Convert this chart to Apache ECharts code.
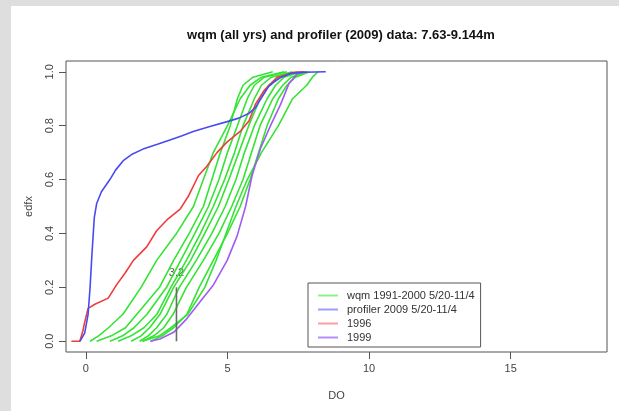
<!DOCTYPE html>
<html>
<head>
<meta charset="utf-8">
<script src="https://cdn.jsdelivr.net/npm/echarts@6/dist/echarts.min.js"></script>
<style>
  html, body { margin: 0; padding: 0; background: #dedede; }
  #main { position: absolute; left: 11px; top: 6px; width: 608px; height: 405px; background: #fff; }
</style>
</head>
<body>
<div id="main"></div>
<script>
// edf levels shared by the green wqm curves
const greenLevels = [0, 0.02, 0.05, 0.1, 0.2, 0.3, 0.4, 0.5, 0.6, 0.7, 0.8, 0.9, 0.95, 0.98, 1]
// DO value at each level, one list per wqm year
const wqmA = [0.15, 0.45, 0.8, 1.31, 1.95, 2.5, 3.2, 3.8, 4.15, 4.5, 5.0, 5.45, 5.8, 6.2, 7.0]
const wqmB = [0.38, 0.9, 1.4, 1.8, 2.6, 3.1, 3.65, 4.15, 4.45, 4.75, 5.1, 5.35, 5.55, 5.9, 6.6]
const wqmC = [0.85, 1.3, 1.7, 2.16, 2.85, 3.35, 3.85, 4.33, 4.7, 5.0, 5.35, 5.7, 5.95, 6.3, 7.1]
const wqmD = [1.14, 1.6, 2.05, 2.51, 3.0, 3.55, 4.05, 4.5, 4.9, 5.25, 5.55, 5.95, 6.2, 6.55, 7.3]
const wqmE = [1.6, 1.95, 2.25, 2.62, 3.1, 3.7, 4.2, 4.68, 5.05, 5.4, 5.75, 6.15, 6.45, 6.8, 7.5]
const wqmF = [1.9, 2.2, 2.5, 2.86, 3.3, 3.9, 4.45, 4.92, 5.3, 5.6, 5.95, 6.4, 6.7, 7.0, 7.6]
const wqmG = [2.0, 2.4, 2.75, 3.08, 3.55, 4.15, 4.7, 5.15, 5.55, 5.85, 6.15, 6.6, 6.95, 7.25, 7.8]
const wqmH = [2.3, 2.7, 3.1, 3.57, 4.0, 4.5, 5.0, 5.45, 5.8, 6.1, 6.4, 6.8, 7.1, 7.4, 7.9]
const wqmI = [2.0, 2.6, 3.0, 3.6, 4.2, 4.6, 4.95, 5.3, 5.7, 6.2, 6.8, 7.3, 7.8, 8.0, 8.2]

const profiler2009 = [[-0.21, 0], [-0.04, 0.03], [0.08, 0.10], [0.15, 0.2], [0.22, 0.33], [0.3, 0.46], [0.38, 0.51],
  [0.55, 0.555], [0.85, 0.60], [1.05, 0.635], [1.32, 0.67], [1.65, 0.695], [2.02, 0.713], [2.5, 0.73], [2.97, 0.747],
  [3.4, 0.763], [3.79, 0.778], [4.38, 0.797], [4.99, 0.815], [5.4, 0.828], [5.75, 0.845], [5.99, 0.867], [6.15, 0.895],
  [6.29, 0.918], [6.45, 0.945], [6.64, 0.962], [6.9, 0.98], [7.23, 0.994], [7.7, 0.998], [8.47, 1.0]]
const wqm1996 = [[-0.51, 0], [-0.21, 0], [-0.1, 0.04], [-0.04, 0.071], [0.08, 0.122], [0.32, 0.137], [0.79, 0.16],
  [1.09, 0.21], [1.4, 0.255], [1.68, 0.30], [2.15, 0.35], [2.5, 0.41], [2.86, 0.45], [3.33, 0.49], [3.63, 0.54],
  [3.98, 0.615], [4.28, 0.65], [4.63, 0.70], [4.99, 0.74], [5.46, 0.78], [5.76, 0.817], [5.99, 0.88], [6.29, 0.93],
  [6.76, 0.98], [7.35, 0.998], [7.7, 1.0]]
const wqm1999 = [[2.27, 0], [2.62, 0.008], [3.1, 0.033], [3.57, 0.084], [4.04, 0.147], [4.51, 0.21], [4.99, 0.30],
  [5.34, 0.39], [5.64, 0.50], [5.87, 0.615], [6.17, 0.716], [6.52, 0.80], [6.88, 0.88], [7.17, 0.956], [7.47, 0.994], [7.8, 1.0]]

const markerDO = 3.2
const markerLine = [[markerDO, 0], [markerDO, 0.2]]

const xTicks = [0, 5, 10, 15]
const yTicks = [0, 0.2, 0.4, 0.6, 0.8, 1.0]

const GREEN_NAME = 'wqm 1991-2000 5/20-11/4'
const BLUE_NAME = 'profiler 2009 5/20-11/4'

const font = 'Liberation Sans, Arial, sans-serif'

function line(name, data, color) {
  return {
    name: name, type: 'line', data: data, symbol: 'none', silent: true,
    lineStyle: { color: color, width: 1.6 }, itemStyle: { color: color }
  }
}

const greens = [wqmA, wqmB, wqmC, wqmD, wqmE, wqmF, wqmG, wqmH, wqmI]
const series = greens.map(xs => line(GREEN_NAME, xs.map((x, i) => [x, greenLevels[i]]), '#35e335'))
series.push(line('1999', wqm1999, '#a05cf0'))
series.push(line('1996', wqm1996, '#f03c3c'))
series.push(line(BLUE_NAME, profiler2009, '#4a4af2'))
series.push(line('marker', markerLine, '#6a6a6a'))
series.push({
  name: 'markerLabel', type: 'scatter', data: [[markerDO, 0.255]], symbolSize: 0, silent: true,
  label: { show: true, position: 'inside', formatter: String(markerDO), color: '#333', fontSize: 11, fontFamily: font }
})

const myChart = echarts.init(document.getElementById('main'))
myChart.setOption({
  animation: false,
  title: {
    text: 'wqm (all yrs) and profiler (2009) data: 7.63-9.144m',
    left: 325, top: 18, textAlign: 'center',
    textStyle: { fontSize: 13, fontWeight: 'bold', color: '#111', fontFamily: font }
  },
  grid: { left: 55, top: 55, right: 12, bottom: 59, show: true, borderColor: '#555', borderWidth: 1, containLabel: false },
  legend: {
    orient: 'vertical', left: 297, top: 277, icon: 'rect', itemWidth: 20, itemHeight: 2, itemGap: 1,
    padding: [6, 6, 3, 10], borderColor: '#555', borderWidth: 1, backgroundColor: '#fff',
    selectedMode: false,
    textStyle: { fontSize: 11, color: '#333', fontFamily: font, lineHeight: 13, padding: [0, 0, 0, 4] },
    data: [
      { name: GREEN_NAME, itemStyle: { color: '#8ef08e' } },
      { name: BLUE_NAME, itemStyle: { color: '#9d9dff' } },
      { name: '1996', itemStyle: { color: '#ff9c9c' } },
      { name: '1999', itemStyle: { color: '#b98cff' } }
    ]
  },
  xAxis: {
    type: 'value', min: -0.7, max: 18.4,
    name: 'DO', nameLocation: 'middle', nameGap: 38,
    nameTextStyle: { fontSize: 11, color: '#444', fontFamily: font },
    axisLine: { show: false, onZero: false },
    axisTick: { show: true, inside: false, length: 7, lineStyle: { color: '#555' }, customValues: xTicks },
    axisLabel: { color: '#444', fontSize: 11, fontFamily: font, margin: 11, customValues: xTicks },
    splitLine: { show: false }
  },
  yAxis: {
    type: 'value', min: -0.04, max: 1.04,
    name: 'edfx', nameLocation: 'middle', nameGap: 32,
    nameTextStyle: { fontSize: 11, color: '#444', fontFamily: font },
    axisLine: { show: false, onZero: false },
    axisTick: { show: true, inside: false, length: 7, lineStyle: { color: '#555' }, customValues: yTicks },
    axisLabel: {
      color: '#444', fontSize: 11, fontFamily: font, margin: 11, rotate: 90,
      customValues: yTicks, formatter: v => v.toFixed(1)
    },
    splitLine: { show: false }
  },
  series: series
})
</script>
</body>
</html>
